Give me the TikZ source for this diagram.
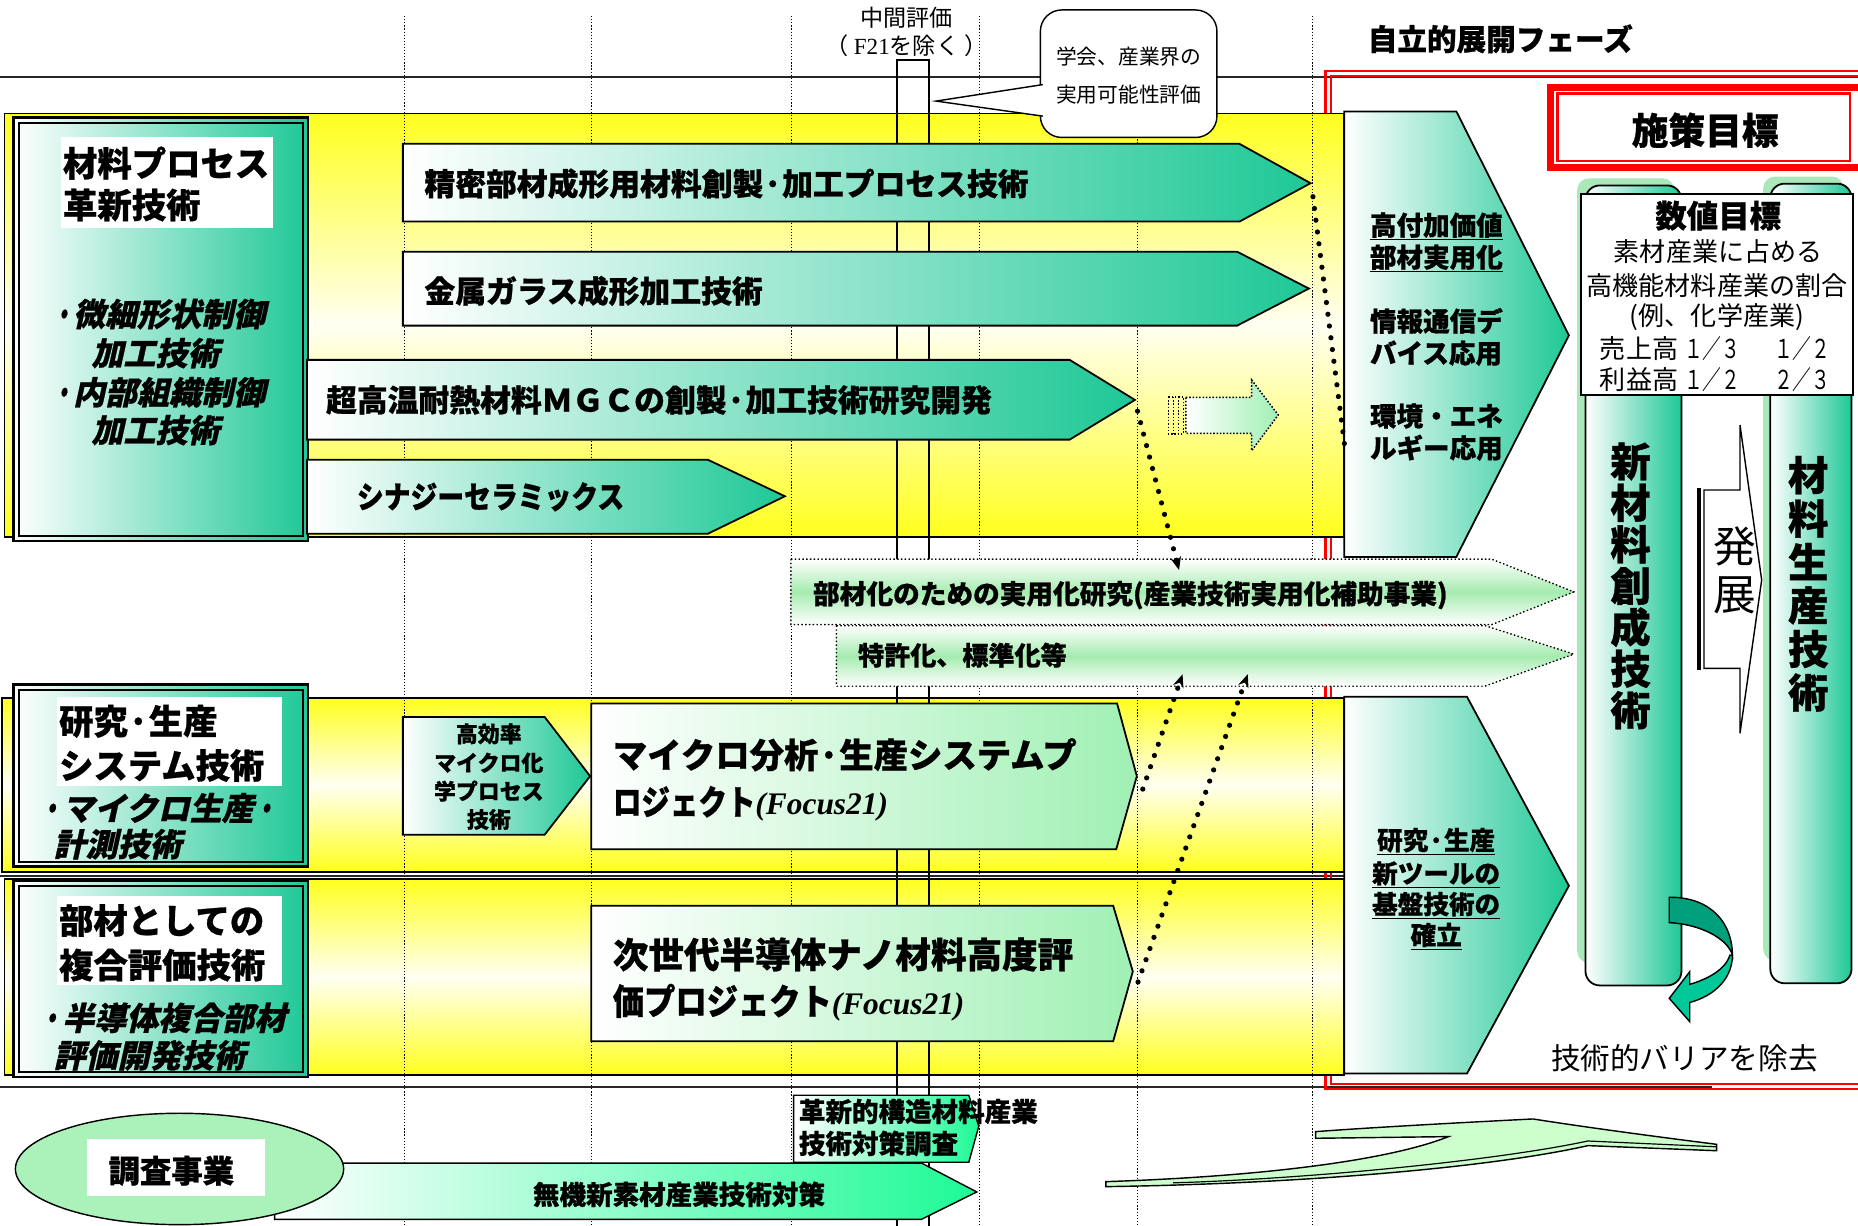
\documentclass[tikz,border=0pt]{standalone}
\usepackage{fontspec}
\usepackage{graphicx}
\setmainfont{Noto Sans CJK JP}[BoldFeatures={FakeBold=0.8}]
\newfontfamily\jpsl{Noto Sans CJK JP}[FakeSlant=0.22, BoldFeatures={FakeBold=0.8}]
\newfontfamily\tnr{Liberation Serif}
\usetikzlibrary{arrows.meta}
\newcommand\FS[1]{\fontsize{#1}{#1}\selectfont}
\newcommand\HS[2]{\scalebox{#1}[1]{#2}}
\definecolor{yelB}{RGB}{255,255,30}
\definecolor{yelP}{RGB}{255,255,242}
\definecolor{tealG}{RGB}{30,200,150}
\definecolor{lgrn}{RGB}{160,240,180}
\definecolor{stripG}{RGB}{165,235,175}
\definecolor{brG}{RGB}{30,250,150}
\definecolor{ellG}{RGB}{170,242,186}
\definecolor{swG}{RGB}{204,255,204}
\definecolor{haloG}{RGB}{170,232,185}
\definecolor{dkT}{RGB}{0,160,125}
\definecolor{ltT}{RGB}{0,200,152}
\tikzset{
 jl/.style={inner sep=0pt, anchor=base west, yshift={-0.38*#1}, font=\FS{#1}\bfseries},
 jc/.style={inner sep=0pt, anchor=base, yshift={-0.38*#1}, font=\FS{#1}\bfseries},
 jlr/.style={inner sep=0pt, anchor=base west, yshift={-0.38*#1}, font=\FS{#1}},
 jcr/.style={inner sep=0pt, anchor=base, yshift={-0.38*#1}, font=\FS{#1}},
 jsl/.style={inner sep=0pt, anchor=base west, yshift={-0.38*#1}, font=\FS{#1}\jpsl\bfseries},
 hline/.style={line width=1.2pt, black!85},
 gridl/.style={line width=0.9pt, black, dash pattern=on 1pt off 1.6pt},
 band/.style={top color=yelB, bottom color=yelB, middle color=yelP, draw=black, line width=1.5pt},
 tealarr/.style={left color=white, right color=tealG, draw=black, line width=1.5pt},
 greenarr/.style={left color=white, right color=lgrn, draw=black, line width=1.5pt},
 brightarr/.style={left color=white, right color=brG, draw=black, line width=1.2pt},
 strip/.style={top color=white, bottom color=white, middle color=stripG, draw=black, line width=1pt, dash pattern=on 1.2pt off 2pt},
 dots/.style={line width=4.4pt, dash pattern=on 0pt off 10pt, line cap=round},
 tip/.style={-{Stealth[length=11pt,width=9pt]}},
}
\begin{document}
\begin{tikzpicture}[x=1pt,y=-1pt]
\useasboundingbox (0,0) rectangle (1568,1034);
\fill[white] (0,0) rectangle (1568,1034);

% horizontal rules
\draw[hline] (0,65) -- (1568,65);
\draw[hline] (0,739.3) -- (1135,739.3);
\draw[hline] (0,917.5) -- (1445,917.5);

% red frame
\draw[red, line width=1.8pt] (1118.6,59.7) rectangle (1580,919.3);
\draw[red, line width=1.5pt] (1123.4,64) rectangle (1575,914.6);

% yellow bands
\shade[band] (3.8,95.8) rectangle (1134.5,453);
\draw[black, line width=1.5pt] (3.8,95.8) rectangle (1134.5,453);
\shade[band] (2,589) rectangle (1134.5,735.7);
\draw[black, line width=1.5pt] (2,589) rectangle (1134.5,735.7);
\shade[band] (3.8,741.7) rectangle (1134.5,907.5);
\draw[black, line width=1.5pt] (3.8,741.7) rectangle (1134.5,907.5);

% grid lines
\foreach \gx in {341,499,668,827,960,1108} \draw[gridl] (\gx,13.6) -- (\gx,1034);
\draw[line width=1pt] (757,50.6) rectangle (784,1040);

% title boxes
\shadedraw[left color=white, right color=tealG, line width=2.2pt] (11.3,99.4) rectangle (260,456.5);
\draw[line width=1.6pt] (15.8,104) rectangle (256,452);
\fill[white] (51.6,116) rectangle (230.5,192);
\node[jl=29] (tA1) at (53,137.8) {材料プロセス};
\node[jl=29] (tA2) at (53,173) {革新技術};
\node[jsl=27] (tA3) at (44,265) {\HS{0.65}{・}微細形状制御};
\node[jsl=27] (tA4) at (77,298) {加工技術};
\node[jsl=27] (tA5) at (44,331) {\HS{0.65}{・}内部組織制御};
\node[jsl=27] (tA6) at (77,363) {加工技術};

\shadedraw[left color=white, right color=tealG, line width=2.2pt] (11.3,577.5) rectangle (260,731);
\draw[line width=1.6pt] (15.8,582.5) rectangle (256,727.5);
\fill[white] (47.8,588) rectangle (238,663);
\node[jl=29] (tB1) at (49.7,608.6) {研究·生産};
\node[jl=29] (tB2) at (49.7,646) {システム技術};
\node[jsl=27] (tB3) at (33,682) {\HS{0.72}{・}マイクロ生産\HS{0.72}{・}};
\node[jsl=27] (tB4) at (45,712.4) {計測技術};

\shadedraw[left color=white, right color=tealG, line width=2.2pt] (11.3,743.5) rectangle (260,909);
\draw[line width=1.6pt] (15.8,747.5) rectangle (256,905);
\fill[white] (47.8,756) rectangle (238,831);
\node[jl=29] (tC1) at (49.7,776.8) {部材としての};
\node[jl=29] (tC2) at (49.7,814.4) {複合評価技術};
\node[jsl=27] (tC3) at (33,859) {\HS{0.72}{・}半導体複合部材};
\node[jsl=27] (tC4) at (45,890.6) {評価開発技術};

% band 1 arrows
\shadedraw[tealarr] (340,121.4) -- (1046,121.4) -- (1106,154.6) -- (1046,187) -- (340,187) -- cycle;
\node[jl=26] (a1) at (358,155) {精密部材成形用材料創製·加工プロセス技術};
\shadedraw[tealarr] (340,212.4) -- (1044,212.4) -- (1104.6,243.5) -- (1044,274.8) -- (340,274.8) -- cycle;
\node[jl=26] (a2) at (358,245.6) {金属ガラス成形加工技術};
\shadedraw[tealarr] (259,303.7) -- (902.7,303.7) -- (957.8,337.5) -- (902.7,371) -- (259,371) -- cycle;
\node[jl=26] (a3) at (275,337.5) {超高温耐熱材料ＭＧＣの創製·加工技術研究開発};
\shadedraw[tealarr] (259,388) -- (597.4,388) -- (662.4,418.8) -- (597.4,450.4) -- (259,450.4) -- cycle;
\node[jl=26] (a4) at (301,419) {\HS{0.87}{シナジーセラミックス}};

% small dotted arrow
\shade[left color=white, right color=lgrn] (1000.8,335.3) -- (1056.3,335.3) -- (1056.3,320.7) -- (1078.7,350.2) -- (1056.3,380.3) -- (1056.3,365.7) -- (1000.8,365.7) -- cycle;
\draw[line width=1.3pt, dash pattern=on 1.3pt off 1.5pt] (1000.8,335.3) -- (1056.3,335.3) -- (1056.3,320.7) -- (1078.7,350.2) -- (1056.3,380.3) -- (1056.3,365.7) -- (1000.8,365.7) -- cycle;
\draw[line width=1.3pt, dash pattern=on 1.3pt off 1.5pt] (986,334.8) rectangle (998.6,366.2);
\draw[line width=1.3pt, dash pattern=on 1.3pt off 1.5pt] (990.2,334.8) -- (990.2,366.2) (994.4,334.8) -- (994.4,366.2);

% callout
\filldraw[fill=white, line width=1.2pt, rounded corners=18pt] (878,8.4) rectangle (1027,116);
\filldraw[fill=white, line width=1.2pt] (880,71.4) -- (790,85.3) -- (880,98);
\node[jcr=17.5] (cl1) at (952.5,48) {学会、産業界の};
\node[jcr=17.5] (cl2) at (952.5,80) {実用可能性評価};
\node[jcr=19.5] (mid1) at (765,15) {中間評価};
\node[jcr=19.5] (mid2) at (765,39) {（ {\tnr F21}を除く ）};

% middle strips
\shade[strip] (667.5,472) -- (1259,472) -- (1328,499.5) -- (1259,527) -- (667.5,527) -- cycle;
\draw[strip] (667.5,472) -- (1259,472) -- (1328,499.5) -- (1259,527) -- (667.5,527) -- cycle;
\node[jl=22.5] (s1) at (686,501) {部材化のための実用化研究(産業技術実用化補助事業)};
\shade[strip] (706,528) -- (1253,528) -- (1328,552) -- (1253,579) -- (706,579) -- cycle;
\draw[strip] (706,528) -- (1253,528) -- (1328,552) -- (1253,579) -- (706,579) -- cycle;
\node[jl=22] (s2) at (724,553) {特許化、標準化等};

% band 2 / 3 arrows
\shadedraw[tealarr] (340,605) -- (459.6,605) -- (498,655) -- (459.6,704.5) -- (340,704.5) -- cycle;
\node[jc=18.5] (k1) at (412.5,619.3) {高効率};
\node[jc=18.5] (k2) at (412.5,643.7) {マイクロ化};
\node[jc=18.5] (k3) at (412.5,667.7) {学プロセス};
\node[jc=18.5] (k4) at (412.5,691.6) {技術};
\shadedraw[greenarr] (499,593.6) -- (942.7,593.6) -- (959.4,655) -- (942,716.7) -- (499,716.7) -- cycle;
\node[jl=29] (m1) at (517,637) {マイクロ分析·生産システムプ};
\node[jl=29] (m2) at (517,676.6) {\HS{0.83}{ロジェクト}{\tnr\fontsize{26.5}{26.5}\selectfont\bfseries\itshape (Focus21)}};
\shadedraw[greenarr] (499,764.3) -- (939.4,764.3) -- (956,819.8) -- (939.4,878.8) -- (499,878.8) -- cycle;
\node[jl=30] (n1) at (517,805.5) {次世代半導体ナノ材料高度評};
\node[jl=30] (n2) at (517,844.8) {\HS{0.88}{価プロジェクト}{\tnr\fontsize{26.5}{26.5}\selectfont\bfseries\itshape (Focus21)}};

% right pentagons
\shadedraw[tealarr] (1134.5,94) -- (1229,94) -- (1324,283) -- (1229,470) -- (1134.5,470) -- cycle;
\node[jl=22.4] (p1) at (1156,190) {\underline{高付加価値}};
\node[jl=22.4] (p2) at (1156,217) {\underline{部材実用化}};
\node[jl=22.4] (p3) at (1156,271) {情報通信デ};
\node[jl=22.4] (p4) at (1156,298) {バイス応用};
\node[jl=22.4] (p5) at (1156,351) {環境・エネ};
\node[jl=22.4] (p6) at (1156,378) {ルギー応用};
\shadedraw[tealarr] (1134.5,588) -- (1238,588) -- (1324,747.5) -- (1238,906) -- (1134.5,906) -- cycle;
\node[jc=21.6] (q1) at (1212,709) {\underline{研究·生産}};
\node[jc=21.6] (q2) at (1212,737) {\underline{新ツールの}};
\node[jc=21.6] (q3) at (1212,763) {\underline{基盤技術の}};
\node[jc=21.6] (q4) at (1212,789) {\underline{確立}};

\node[jl=25] (phase) at (1154,33) {自立的展開フェーズ};

% policy goal box
\draw[red, line width=5.5pt] (1308.55,73.65) rectangle (1585,141.55);
\draw[red, line width=2pt] (1314.4,78.75) rectangle (1561,135.85);
\node[jc=31] (goal) at (1439,110) {施策目標};

% columns
\fill[haloG, rounded corners=10pt] (1331,150.5) rectangle (1413,812.6);
\shadedraw[left color=white, right color=tealG, rounded corners=12pt, line width=1.5pt] (1338,156.5) rectangle (1419,831.6);
\fill[haloG, rounded corners=10pt] (1488,149) rectangle (1556,810.8);
\shadedraw[left color=white, right color=tealG, rounded corners=12pt, line width=1.5pt] (1494,155) rectangle (1562.5,829.8);
\filldraw[fill=white, line width=1.5pt] (1334,163.6) rectangle (1564,333.5);
\node[jc=26.5] (num) at (1450,182) {数値目標};
\node[jcr=22] (v1) at (1450,212.4) {素材産業に占める};
\node[jcr=22] (v2) at (1449,241) {高機能材料産業の割合};
\node[jcr=22] (v3) at (1449,266.7) {(例、化学産業)};
\node[jlr=22] (v4) at (1350,293.8) {売上高};
\node[jlr=22] (v5) at (1421,293.8) {\HS{0.72}{１／３}};
\node[jlr=22] (v6) at (1497,293.8) {\HS{0.72}{１／２}};
\node[jlr=22] (v7) at (1350,320) {利益高};
\node[jlr=22] (v8) at (1421,320) {\HS{0.72}{１／２}};
\node[jlr=22] (v9) at (1497,320) {\HS{0.72}{２／３}};
\node[inner sep=0pt, align=center, font=\fontsize{34}{35}\selectfont\bfseries] (col1) at (1376,494.5) {新\\材\\料\\創\\成\\技\\術};
\node[inner sep=0pt, align=center, font=\fontsize{34}{36.7}\selectfont\bfseries] (col2) at (1526,492.7) {材\\料\\生\\産\\技\\術};

% development arrow
\filldraw[fill=white, line width=1.2pt] (1438,413.5) -- (1468.4,413.5) -- (1468.4,358.6) -- (1486.7,489.5) -- (1468.4,618.8) -- (1468.4,564) -- (1438,564) -- cycle;
\draw[line width=3.4pt] (1433.5,412) -- (1433.5,565.5);
\node[inner sep=0pt, align=center, font=\fontsize{36}{41}\selectfont] (dev) at (1464,481.5) {発\\展};

% curved arrow
\filldraw[fill=dkT, line width=1.2pt] (1408.7,757.2) .. controls (1445,757) and (1462,780) .. (1462,806) .. controls (1458,792) and (1435,780) .. (1408.7,778.6) -- cycle;
\filldraw[fill=ltT, line width=1.2pt] (1462,806) .. controls (1462,825) and (1448,840) .. (1426,846) -- (1426,862.2) -- (1408.7,842.5) -- (1426,820) -- (1426,830.7) .. controls (1442,826) and (1456,818) .. (1460,806) -- cycle;
\node[jcr=25] (barrier) at (1421.5,893) {技術的バリアを除去};

% bottom
\shadedraw[brightarr] (231.7,981.5) -- (777.6,981.5) -- (824.3,1005.9) -- (777.6,1029) -- (231.7,1029) -- cycle;
\node[jc=22.4] (muki) at (573,1008) {無機新素材産業技術対策};
\filldraw[fill=ellG, line width=1.2pt] (151.5,986.5) ellipse (138.5 and 47);
\fill[white] (73.5,961) rectangle (223.4,1009.5);
\node[jc=26.5] (chosa) at (144.6,988) {調査事業};
\shadedraw[brightarr] (669.8,924.3) -- (817.6,924.3) -- (826,950.4) -- (817.6,980.8) -- (669.8,980.8) -- cycle;
\node[jl=22.4] (kak1) at (674,938) {革新的構造材料産業};
\node[jl=22.4] (kak2) at (674,965) {技術対策調査};

% swoosh
\filldraw[fill=swG, line width=1.2pt] (933.3,1001.4) .. controls (1100,999) and (1260,985) .. (1340,966.8) -- (1448.6,971.1) -- (1448.6,965.7) .. controls (1380,957) and (1330,950) .. (1293.7,944.3) .. controls (1220,948) and (1150,952) .. (1110.3,955) -- (1110.3,960.6) -- (1222.4,959.2) .. controls (1170,980) and (1060,993) .. (933.3,997.2) -- cycle;
\draw[line width=1pt] (1448.6,967.8) -- (1340,962.9) .. controls (1260,980) and (1100,995) .. (990,998.2);

% dotted connectors
\coordinate (c1a) at (1108,166);
\coordinate (c1b) at (1135,378);
\draw[dots] (c1a) -- (c1b);
\coordinate (c2a) at (960,347);
\coordinate (c2b) at (995,481);
\draw[dots, tip] (c2a) -- (c2b);
\coordinate (c3a) at (964.4,665.9);
\coordinate (c3b) at (998,569);
\draw[dots, tip] (c3a) -- (c3b);
\coordinate (c4a) at (960.4,828.7);
\coordinate (c4b) at (1053,569);
\draw[dots, tip] (c4a) -- (c4b);
\end{tikzpicture}
\end{document}
